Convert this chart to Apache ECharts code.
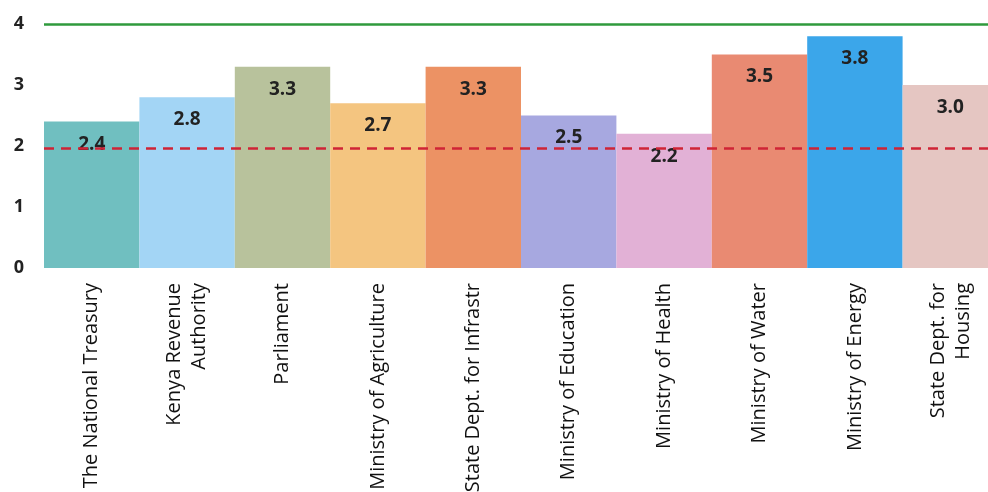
<!DOCTYPE html>
<html>
<head>
<meta charset="utf-8">
<script src="https://cdn.jsdelivr.net/npm/echarts@6/dist/echarts.min.js"></script>
<style>
  html, body { margin: 0; padding: 0; background: #fff; }
  #chart { width: 988px; height: 492px; }
</style>
</head>
<body>
<div id="chart"></div>
<script>
var categories = [
    'The National Treasury',
    'Kenya Revenue\nAuthority',
    'Parliament',
    'Ministry of Agriculture',
    'State Dept. for Infrastr',
    'Ministry of Education',
    'Ministry of Health',
    'Ministry of Water',
    'Ministry of Energy',
    'State Dept. for\nHousing'
];
var scores = [2.4, 2.8, 3.3, 2.7, 3.3, 2.5, 2.2, 3.5, 3.8, 3.0];
var barColors = ['#70bfc0', '#a3d5f5', '#b8c29c', '#f4c580', '#ec9264',
                 '#a7a8e0', '#e2b1d6', '#e98a72', '#3ba6ea', '#e5c6c2'];
var yTicks = [0, 1, 2, 3, 4];
var targetLine = 4;      // green solid line
var averageLine = 1.96;  // red dashed line

var chart = echarts.init(document.getElementById('chart'));

var fontName = '"Open Sans", sans-serif';

chart.setOption({
    animation: false,
    grid: {
        left: 44,
        top: 24,
        width: 954,
        height: 244,
        outerBoundsMode: 'none'
    },
    xAxis: {
        type: 'category',
        data: categories,
        axisLine: { show: false },
        axisTick: { show: false },
        axisLabel: {
            rotate: 90,
            margin: 15,
            interval: 0,
            color: '#111',
            fontFamily: fontName,
            fontSize: 20,
            lineHeight: 25
        }
    },
    yAxis: {
        type: 'value',
        min: yTicks[0],
        max: yTicks[yTicks.length - 1],
        interval: 1,
        axisLine: { show: false },
        axisTick: { show: false },
        splitLine: { show: false },
        axisLabel: {
            margin: 20,
            color: '#222',
            fontFamily: fontName,
            fontWeight: 'bold',
            fontSize: 18
        }
    },
    series: [{
        type: 'bar',
        barCategoryGap: '0%',
        data: scores.map(function (v, i) {
            return { value: v, itemStyle: { color: barColors[i] } };
        }),
        label: {
            show: true,
            position: 'insideTop',
            distance: 13,
            color: '#222',
            fontFamily: fontName,
            fontWeight: 'bold',
            fontSize: 19,
            formatter: function (p) { return p.value.toFixed(1); }
        },
        markLine: {
            silent: true,
            symbol: 'none',
            label: { show: false },
            data: [
                { yAxis: targetLine, lineStyle: { color: '#2f9a3c', width: 2.5, type: 'solid' } },
                { yAxis: averageLine, lineStyle: { color: '#cf2436', width: 2.5, type: [10, 7] } }
            ]
        }
    }]
});
</script>
</body>
</html>
